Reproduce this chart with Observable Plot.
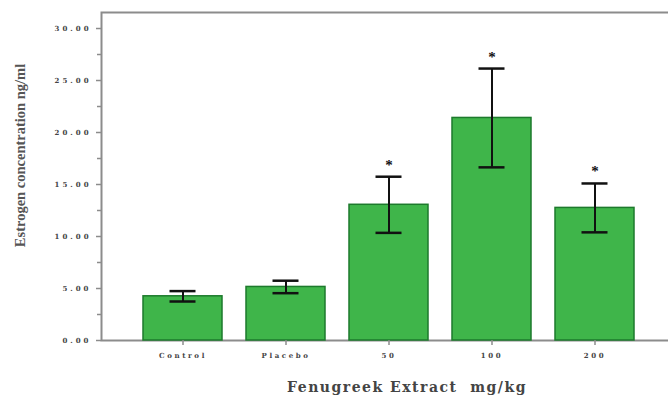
<!DOCTYPE html>
<html>
<head>
<meta charset="utf-8">
<script src="https://cdn.jsdelivr.net/npm/d3@7"></script>
<script src="https://cdn.jsdelivr.net/npm/@observablehq/plot@0.6"></script>
<style>
  html, body { margin: 0; padding: 0; background: #fff; overflow: hidden; }
  svg { overflow: hidden; }
  g[aria-label="y-axis tick label"] text { letter-spacing: 3px; }
  g[aria-label="x-axis tick label"] text { letter-spacing: 2.6px; }
</style>
</head>
<body>
<div id="chart"></div>
<script>
const groups = ["Control", "Placebo", "50", "100", "200"];
const means = [4.25, 5.15, 13.05, 21.4, 12.75];
const errors = [0.5, 0.6, 2.7, 4.75, 2.35];
const stars = ["", "", "*", "*", "*"];
const yTicks = [0, 5, 10, 15, 20, 25, 30];
const yMinorTicks = [2.5, 7.5, 12.5, 17.5, 22.5, 27.5];
const xTitle = "Fenugreek Extract  mg/kg";
const yTitle = "Estrogen concentration ng/ml";

const data = groups.map((g, i) => ({
  group: g, mean: means[i], lo: means[i] - errors[i], hi: means[i] + errors[i], star: stars[i]
}));

const serif = "'Liberation Serif', 'DejaVu Serif', serif";
const slab = "'DejaVu Serif', 'Liberation Serif', serif";
const axisColor = "#8c8c8c";

const chart = Plot.plot({
  width: 668,
  height: 403,
  marginLeft: 101,
  marginRight: 0,
  marginTop: 12,
  marginBottom: 63,
  style: { fontFamily: serif, background: "#fff", overflow: "hidden" },
  x: { type: "band", domain: groups, range: [101, 677], paddingInner: 0.23, paddingOuter: 0.385, label: null },
  y: { domain: [0, 31.54], label: null },
  marks: [
    Plot.frame({ stroke: axisColor, strokeWidth: 2, insetRight: -20 }),
    Plot.barY(data, { x: "group", y: "mean", fill: "#3fb54a", stroke: "#1d7a2c", strokeWidth: 1.5 }),
    Plot.ruleX(data, { x: "group", y1: "lo", y2: "hi", stroke: "#111", strokeWidth: 2 }),
    Plot.tickY(data, { x: "group", y: "hi", stroke: "#111", strokeWidth: 2.5, insetLeft: 26.5, insetRight: 26.5 }),
    Plot.tickY(data, { x: "group", y: "lo", stroke: "#111", strokeWidth: 2.5, insetLeft: 26.5, insetRight: 26.5 }),
    Plot.text(data, { x: "group", y: "hi", text: "star", dy: -7, fontSize: 15, fontWeight: "bold", fill: "#111", lineAnchor: "bottom" }),
    Plot.axisY(yMinorTicks, { tickSize: 4, text: null, stroke: axisColor, strokeWidth: 1.5 }),
    Plot.axisY(yTicks, {
      tickSize: 5, tickPadding: 5, stroke: axisColor, strokeWidth: 1.5,
      tickFormat: d => d.toFixed(2), fontSize: 7, fontWeight: "bold", fill: "#444",
      fontFamily: slab, label: null
    }),
    Plot.axisX({
      tickSize: 5, tickPadding: 8, stroke: axisColor, strokeWidth: 1.5,
      fontSize: 7, fontWeight: "bold", fill: "#444", fontFamily: slab, label: null
    }),
    Plot.text([yTitle], {
      frameAnchor: "left", textAnchor: "middle", rotate: -90, dx: -81, dy: -21,
      fontSize: 14.5, fontWeight: "bold", fill: "#555"
    }),
    Plot.text([xTitle], {
      frameAnchor: "bottom", textAnchor: "middle", dx: 22, dy: 51,
      fontSize: 14, fontWeight: "bold", fill: "#444", fontFamily: slab
    })
  ]
});
d3.select(chart).selectAll("text")
  .filter(function () { return this.textContent === xTitle; })
  .style("letter-spacing", "1.5px");
document.getElementById("chart").appendChild(chart);
</script>
</body>
</html>
